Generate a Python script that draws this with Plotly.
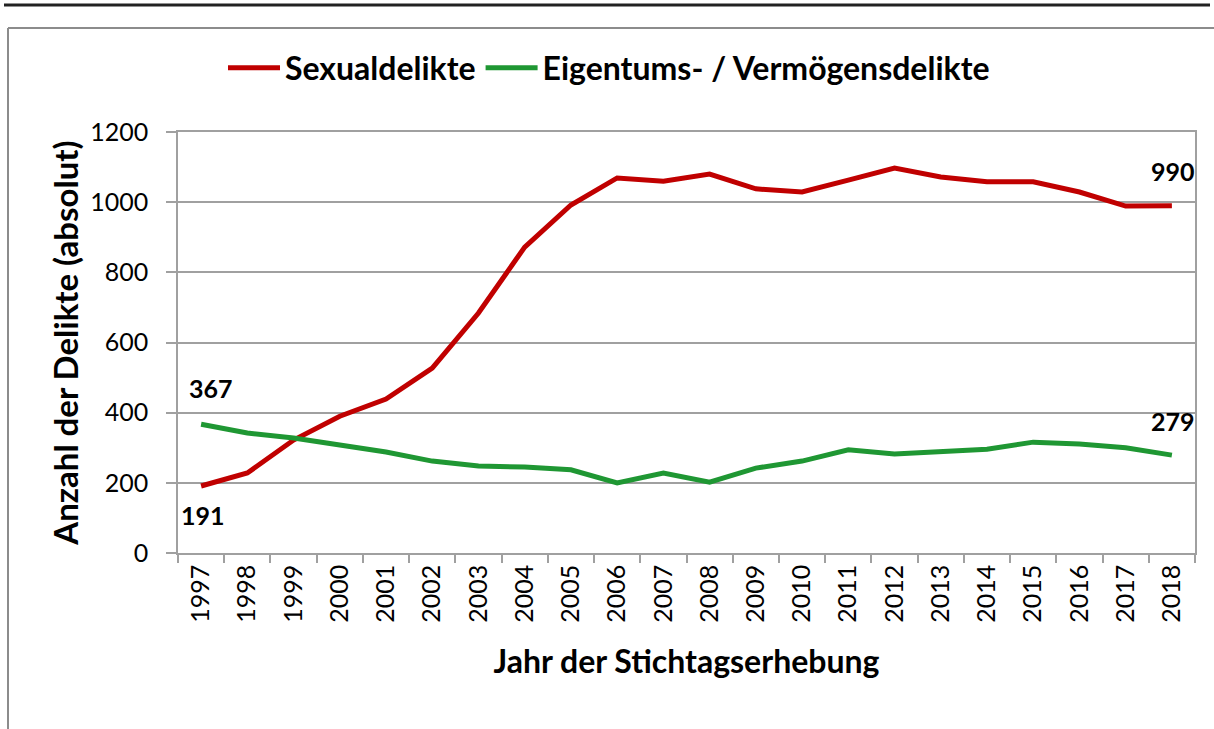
import plotly.graph_objects as go

years = [str(y) for y in range(1997, 2019)]
sexual = [191, 228, 322, 390, 439, 527, 684, 872, 992, 1069, 1060, 1080, 1038, 1029,
          1063, 1097, 1072, 1058, 1058, 1029, 989, 990]
eigentum = [367, 342, 328, 308, 288, 262, 248, 245, 237, 200, 228, 202, 242, 262,
            294, 282, 288, 296, 316, 311, 300, 279]
y_ticks = [0, 200, 400, 600, 800, 1000, 1200]

RED = "#C00000"
GREEN = "#1F9733"
GRID = "#A0A0A0"
FONT = "Lato"

W, H = 1214, 729
L, R, T, B = 178, 1195, 132, 553  # plot area in pixels


def px_x(p):
    return (p - L) / (R - L)


def px_y(p):
    return (B - p) / (B - T)


fig = go.Figure()
fig.add_trace(go.Scatter(x=years, y=sexual, mode="lines", name="Sexualdelikte",
                         line=dict(color=RED, width=5)))
fig.add_trace(go.Scatter(x=years, y=eigentum, mode="lines", name="Eigentums- / Vermögensdelikte",
                         line=dict(color=GREEN, width=5)))

lab_font = dict(family=FONT, size=25, color="#000000", weight=700)
first, last = 0, len(years) - 1
annots = [
    dict(x=first, y=eigentum[first], text=str(eigentum[first]), yshift=36, xshift=10),
    dict(x=first, y=sexual[first], text=str(sexual[first]), yshift=-29, xshift=2),
    dict(x=last, y=sexual[last], text=str(sexual[last]), yshift=35, xshift=1),
    dict(x=last, y=eigentum[last], text=str(eigentum[last]), yshift=34, xshift=1),
]
for a in annots:
    fig.add_annotation(xref="x", yref="y", showarrow=False, font=lab_font, **a)

# decorative frame: top rule and chart border
fig.add_shape(type="line", xref="paper", yref="paper",
              x0=px_x(4), x1=px_x(1210), y0=px_y(5), y1=px_y(5),
              line=dict(color="#222222", width=3))
fig.add_shape(type="line", xref="paper", yref="paper",
              x0=px_x(8), x1=px_x(1216), y0=px_y(28), y1=px_y(28),
              line=dict(color="#8C8C8C", width=2))
fig.add_shape(type="line", xref="paper", yref="paper",
              x0=px_x(8), x1=px_x(8), y0=px_y(28), y1=px_y(735),
              line=dict(color="#8C8C8C", width=2))

fig.update_layout(
    width=W, height=H, autosize=False,
    margin=dict(l=L, r=W - R, t=T, b=H - B, pad=0),
    paper_bgcolor="white", plot_bgcolor="white",
    font=dict(family=FONT, size=25, color="#000000"),
    showlegend=True,
    legend=dict(orientation="h", x=px_x(609), xanchor="center",
                y=px_y(68), yanchor="middle",
                font=dict(family=FONT, size=32, color="#000000", weight=700),
                itemwidth=52, tracegroupgap=0, bgcolor="rgba(0,0,0,0)"),
    xaxis=dict(type="category", categoryorder="array", categoryarray=years,
               range=[-0.5, len(years) - 0.5],
               tickmode="array", tickvals=years, ticktext=years,
               tickangle=-90, tickson="boundaries", ticks="outside", ticklen=8,
               tickcolor=GRID, tickwidth=1.5, showline=True, linecolor=GRID,
               linewidth=1.5, showgrid=False, mirror=True,
               tickfont=dict(family=FONT, size=25, color="#000000"),
               title=dict(text="Jahr der Stichtagserhebung", standoff=29,
                          font=dict(family=FONT, size=32, color="#000000", weight=700)),
               automargin=False, fixedrange=True),
    yaxis=dict(range=[0, 1200], tickmode="array", tickvals=y_ticks,
               ticktext=[str(v) for v in y_ticks],
               ticks="outside", ticklen=10, tickcolor=GRID, tickwidth=1.5,
               showline=True, linecolor=GRID, linewidth=1.5, mirror=True,
               showgrid=True, gridcolor=GRID, gridwidth=1.5, zeroline=False,
               ticklabelstandoff=13,
               tickfont=dict(family=FONT, size=25, color="#000000"),
               title=dict(text="Anzahl der Delikte (absolut)", standoff=2,
                          font=dict(family=FONT, size=33, color="#000000", weight=700)),
               automargin=False, fixedrange=True),
)

fig.write_html("out.html", config={"displayModeBar": False},
               post_script="document.body.style.margin='0';")
